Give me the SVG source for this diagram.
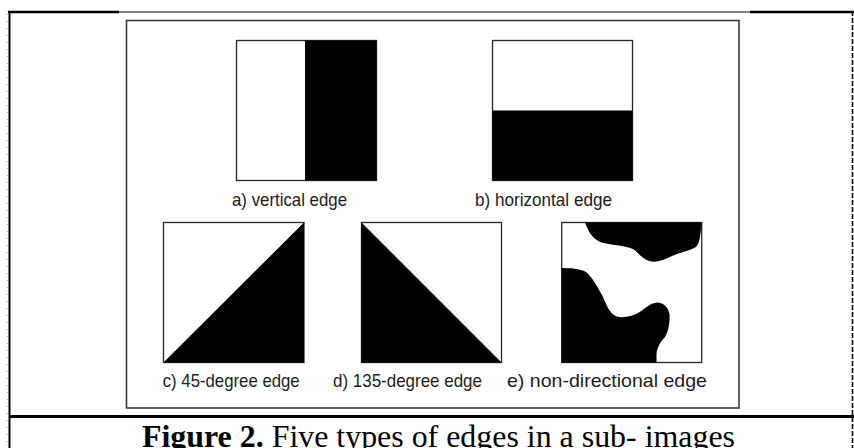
<svg xmlns="http://www.w3.org/2000/svg" width="854" height="448" viewBox="0 0 854 448">
  <style>
    .page { fill: #ffffff; }
    .rule { stroke: #000000; fill: none; }
    .frame { fill: #ffffff; stroke: #3a3a3a; stroke-width: 1.6; }
    .tile { fill: #ffffff; stroke: #262626; stroke-width: 1.3; }
    .ink { fill: #000000; }
    .label { font-family: "Liberation Sans", Arial, sans-serif; font-size: 18.5px; fill: #1c1c1c; }
    .caption { font-family: "Liberation Serif", "Times New Roman", serif; font-size: 31px; fill: #000000; }
  </style>

  <rect class="page" x="0" y="0" width="854" height="448"/>

  <!-- table rules of the page -->
  <g id="page-rules">
    <line class="rule" x1="8" y1="12" x2="119" y2="12" stroke-width="2.4"/>
    <line class="rule" x1="119" y1="12" x2="750" y2="12" stroke-width="1.2"/>
    <line class="rule" x1="750" y1="12" x2="854" y2="12" stroke-width="2.4"/>
    <line class="rule" x1="9.5" y1="11" x2="9.5" y2="448" stroke-width="2"/>
    <line x1="7" y1="14" x2="7" y2="448" stroke="#8a8a8a" stroke-width="1" stroke-dasharray="1 6"/>
    <line class="rule" x1="852.5" y1="11" x2="852.5" y2="448" stroke-width="1.6" stroke-dasharray="5 2"/>
    <line class="rule" x1="9" y1="416.5" x2="854" y2="416.5" stroke-width="3.2"/>
  </g>

  <!-- figure frame -->
  <rect id="frame" class="frame" x="126.5" y="20.5" width="612.5" height="387.5"/>

  <!-- a) vertical edge -->
  <g id="tile-vertical">
    <rect class="tile" x="236.5" y="40.5" width="140" height="140"/>
    <rect class="ink" x="305" y="40.5" width="71.5" height="140"/>
    <text class="label" x="232" y="206" textLength="115" lengthAdjust="spacingAndGlyphs">a) vertical edge</text>
  </g>

  <!-- b) horizontal edge -->
  <g id="tile-horizontal">
    <rect class="tile" x="492.5" y="40.5" width="140" height="140"/>
    <rect class="ink" x="492.5" y="110.5" width="140" height="70"/>
    <text class="label" x="475" y="206" textLength="137" lengthAdjust="spacingAndGlyphs">b) horizontal edge</text>
  </g>

  <!-- c) 45-degree edge -->
  <g id="tile-45">
    <rect class="tile" x="163.5" y="222.5" width="140.5" height="140"/>
    <polygon class="ink" points="163.5,362.5 304,222.5 304,362.5"/>
    <text class="label" x="162.7" y="386.7" textLength="137" lengthAdjust="spacingAndGlyphs">c) 45-degree edge</text>
  </g>

  <!-- d) 135-degree edge -->
  <g id="tile-135">
    <rect class="tile" x="361.5" y="222.5" width="140" height="140"/>
    <polygon class="ink" points="361.5,222.5 501.5,362.5 361.5,362.5"/>
    <text class="label" x="333" y="386.7" textLength="149" lengthAdjust="spacingAndGlyphs">d) 135-degree edge</text>
  </g>

  <!-- e) non-directional edge -->
  <g id="tile-nondirectional">
    <rect class="tile" x="561.7" y="222.5" width="140" height="140"/>
    <path class="ink" d="M585,222.5 C588,231 592,238 600,242 C608,245 624,245 633,249 C638,252 641,258 649,261 C656,263 664,260 672,256 C680,252 690,251 696,247 C700,243 700,236 701,229 L701.7,222.5 Z"/>
    <path class="ink" d="M561.7,268 C570,268 580,268.5 586,272 C592,277 597,286 602,295 C606,303 608,311 614,315 C620,319 630,317 638,313 C645,309 650,303 657,302.5 C664,303 668,307 669.5,314 C670,321 669,330 665,337 C660,342 657,348 656.5,354 L656.5,362.5 L561.7,362.5 Z"/>
    <text class="label" x="507" y="386.7" textLength="200" lengthAdjust="spacingAndGlyphs">e) non-directional edge</text>
  </g>

  <!-- caption -->
  <text id="caption" class="caption" x="142" y="447" textLength="593" lengthAdjust="spacingAndGlyphs"><tspan font-weight="bold">Figure 2.</tspan> Five types of edges in a sub- images</text>
</svg>
